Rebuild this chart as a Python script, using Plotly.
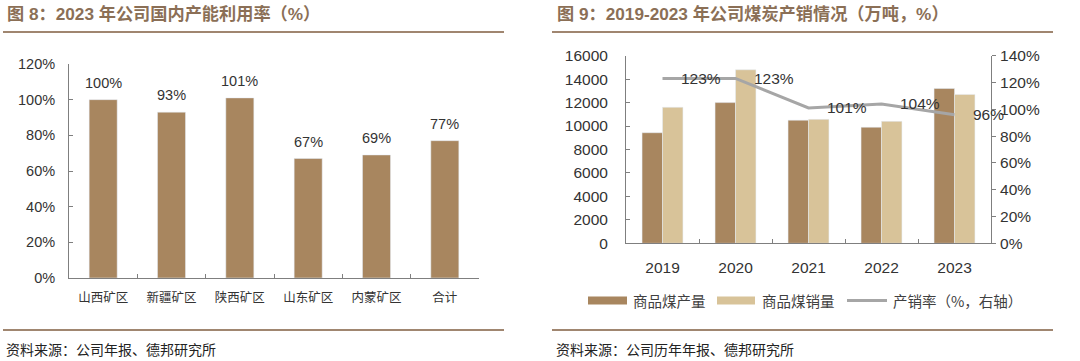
import plotly.graph_objects as go

# ---------------- data ----------------
regions = ["山西矿区", "新疆矿区", "陕西矿区", "山东矿区", "内蒙矿区", "合计"]
utilization = [1.00, 0.93, 1.01, 0.67, 0.69, 0.77]
utilization_labels = ["100%", "93%", "101%", "67%", "69%", "77%"]

years = ["2019", "2020", "2021", "2022", "2023"]
production = [9430, 12000, 10500, 9900, 13200]
sales = [11600, 14800, 10570, 10400, 12700]
ratio = [1.23, 1.23, 1.01, 1.04, 0.96]
ratio_labels = ["123%", "123%", "101%", "104%", "96%"]

title_left = "图 8：2023 年公司国内产能利用率（%）"
title_right = "图 9：2019-2023 年公司煤炭产销情况（万吨，%）"
source_left = "资料来源：公司年报、德邦研究所"
source_right = "资料来源：公司历年年报、德邦研究所"
legend_names = ["商品煤产量", "商品煤销量", "产销率（%，右轴）"]

# ---------------- style ----------------
W, H = 1080, 361
DARK = "#A8865F"
LIGHT = "#D8C399"
GRAY_LINE = "#A6A6A6"
BROWN = "#8B6F56"
RULE = "#A08670"
TXT = "#333333"
AXIS = "#7F7F7F"
NUM_FONT = "Liberation Sans, Arial, Noto Sans CJK SC"
CJK_FONT = "Noto Sans CJK SC, Liberation Sans"

def px_x(x):
    return x / W

def px_y(y):
    return 1 - y / H

fig = go.Figure()

# left chart
fig.add_trace(go.Bar(
    x=regions, y=utilization, marker_color=DARK, xaxis="x", yaxis="y",
    width=0.41, showlegend=False,
))

# right chart
fig.add_trace(go.Bar(
    x=years, y=production, name=legend_names[0], marker_color=DARK,
    xaxis="x2", yaxis="y2", showlegend=False, width=0.28, offset=-0.28,
))
fig.add_trace(go.Bar(
    x=years, y=sales, name=legend_names[1], marker_color=LIGHT,
    xaxis="x2", yaxis="y2", showlegend=False, width=0.28, offset=0.0,
))
fig.add_trace(go.Scatter(
    x=years, y=ratio, name=legend_names[2], mode="lines",
    line=dict(color=GRAY_LINE, width=3), xaxis="x2", yaxis="y3",
    showlegend=False, cliponaxis=False,
))

annotations = []
# value labels above the left bars (x = category index)
for i, (v, lab) in enumerate(zip(utilization, utilization_labels)):
    annotations.append(dict(
        x=i, y=v, xref="x", yref="y", text=lab, showarrow=False,
        xanchor="center", yanchor="bottom", yshift=7,
        font=dict(family=NUM_FONT, size=14.5, color=TXT),
    ))
# labels to the right of the line points
for i, (r, lab) in enumerate(zip(ratio, ratio_labels)):
    annotations.append(dict(
        x=i, y=r, xref="x2", yref="y3", text=lab, showarrow=False,
        xanchor="left", yanchor="middle", xshift=16,
        font=dict(family=NUM_FONT, size=15.5, color=TXT),
    ))

# titles
annotations.append(dict(x=px_x(5), y=px_y(14.5), xref="paper", yref="paper",
                        text="<b>" + title_left + "</b>", showarrow=False,
                        xanchor="left", yanchor="middle",
                        font=dict(family=NUM_FONT, size=17.2, color=BROWN)))
annotations.append(dict(x=px_x(555), y=px_y(14.5), xref="paper", yref="paper",
                        text="<b>" + title_right + "</b>", showarrow=False,
                        xanchor="left", yanchor="middle",
                        font=dict(family=NUM_FONT, size=17.2, color=BROWN)))
# sources
annotations.append(dict(x=px_x(4), y=px_y(349), xref="paper", yref="paper",
                        text=source_left, showarrow=False,
                        xanchor="left", yanchor="middle",
                        font=dict(family=CJK_FONT, size=14, color="#222222")))
annotations.append(dict(x=px_x(554), y=px_y(349), xref="paper", yref="paper",
                        text=source_right, showarrow=False,
                        xanchor="left", yanchor="middle",
                        font=dict(family=CJK_FONT, size=14, color="#222222")))

# manual legend (right chart)
leg_y = 300.5
legend_items = [
    (588, 627, 631, "bar", DARK),
    (717, 755, 760, "bar", LIGHT),
    (847, 887, 891, "line", GRAY_LINE),
]
shapes = []
for (x0, x1, xt, kind, col), name in zip(legend_items, legend_names):
    if kind == "bar":
        shapes.append(dict(type="rect", xref="paper", yref="paper",
                           x0=px_x(x0), x1=px_x(x1), y0=px_y(leg_y + 4), y1=px_y(leg_y - 4),
                           fillcolor=col, line=dict(width=0)))
    else:
        shapes.append(dict(type="line", xref="paper", yref="paper",
                           x0=px_x(x0), x1=px_x(x1), y0=px_y(leg_y), y1=px_y(leg_y),
                           line=dict(color=col, width=3)))
    annotations.append(dict(x=px_x(xt), y=px_y(leg_y), xref="paper", yref="paper",
                            text=name, showarrow=False, xanchor="left", yanchor="middle",
                            font=dict(family=CJK_FONT, size=14.5, color="#404040")))

# rules
for (x0, x1) in [(3, 504), (552, 1053)]:
    for yy in (32, 330):
        shapes.append(dict(type="line", xref="paper", yref="paper",
                           x0=px_x(x0), x1=px_x(x1), y0=px_y(yy), y1=px_y(yy),
                           line=dict(color=RULE, width=2)))

axis_common = dict(showline=True, linecolor=AXIS, linewidth=1, showgrid=False,
                   zeroline=False, ticks="inside", ticklen=4, tickcolor=AXIS,
                   automargin=False)

fig.update_layout(
    width=W, height=H, margin=dict(l=0, r=0, t=0, b=0, pad=0),
    paper_bgcolor="white", plot_bgcolor="white",
    barmode="group", showlegend=False, hovermode=False,
    xaxis=dict(domain=[px_x(69), px_x(479)], anchor="y", type="category",
               range=[-0.5, len(regions) - 0.5], tickson="boundaries",
               tickfont=dict(family=CJK_FONT, size=12.5, color=TXT),
               **axis_common, ticklabelstandoff=8),
    yaxis=dict(domain=[px_y(278), px_y(64)], anchor="x", range=[0, 1.2], dtick=0.2,
               tickformat=".0%", tickfont=dict(family=NUM_FONT, size=14.5, color=TXT),
               **axis_common, ticklabelstandoff=10),
    xaxis2=dict(domain=[px_x(626), px_x(991)], anchor="y2", type="category",
                range=[-0.5, len(years) - 0.5], tickson="boundaries",
                tickfont=dict(family=NUM_FONT, size=15.5, color=TXT),
                **axis_common, ticklabelstandoff=10),
    yaxis2=dict(domain=[px_y(243.3), px_y(55.7)], anchor="x2", range=[0, 16000], dtick=2000,
                tickformat="d", tickfont=dict(family=NUM_FONT, size=15.5, color=TXT),
                **axis_common, ticklabelstandoff=14),
    yaxis3=dict(overlaying="y2", side="right", anchor="x2", range=[0, 1.4], dtick=0.2,
                tickformat=".0%", tickfont=dict(family=NUM_FONT, size=15.5, color=TXT),
                showline=True, linecolor=AXIS, linewidth=1, showgrid=False, zeroline=False,
                ticks="outside", ticklen=4, tickcolor=AXIS, ticklabelstandoff=1,
                automargin=False),
    annotations=annotations, shapes=shapes,
)

fig.write_html("out.html", config={"displayModeBar": False, "staticPlot": True},
               post_script="document.body.style.margin='0';")
